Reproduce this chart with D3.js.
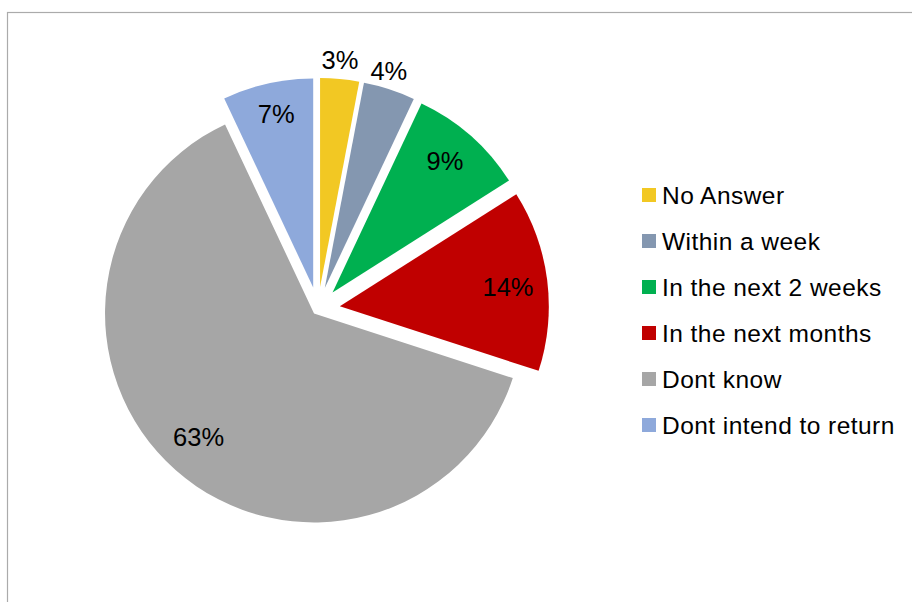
<!DOCTYPE html>
<html>
<head>
<meta charset="utf-8">
<script src="https://cdn.jsdelivr.net/npm/d3@7"></script>
<style>
  html, body { margin: 0; padding: 0; background: #fff; }
  svg { display: block; font-family: "Liberation Sans", Arial, sans-serif; }
</style>
</head>
<body>
<svg id="chart" width="912" height="602"></svg>
<script>
// Survey answers: when do respondents intend to return
const categories = ["No Answer", "Within a week", "In the next 2 weeks", "In the next months", "Dont know", "Dont intend to return"];
const shares = [3, 4, 9, 14, 63, 7];
const colors = ["#F2C823", "#8497B0", "#00B050", "#C00000", "#A6A6A6", "#8EA9DB"];
// per-slice explosion distance (px) and label placement
const explode = [22, 22, 22, 22, 6, 22];
const labelRadius = [1.09, 1.085, 0.83, 0.81, 0.81, 0.85]; // fraction of the pie radius
const labelTurn = [-0.4, -1.6, -1, 0.6, 1.6, 0.6];          // degrees

const svg = d3.select("#chart");

// chart frame (extends past the right and bottom edges)
svg.append("rect")
  .attr("x", 7.5).attr("y", 12.5)
  .attr("width", 1000).attr("height", 1000)
  .attr("fill", "none").attr("stroke", "#ababab").attr("stroke-width", 1.2);

const cx = 318, cy = 309, R = 209;
const rad = Math.PI / 180;

const pie = d3.pie().value(d => d).sort(null);
const arcs = pie(shares);
const arc = d3.arc().innerRadius(0).outerRadius(R);

const g = svg.append("g").attr("transform", `translate(${cx},${cy})`);

const slice = g.selectAll("g.slice").data(arcs).enter().append("g")
  .attr("class", "slice")
  .attr("transform", (d, i) => {
    const a = (d.startAngle + d.endAngle) / 2;
    return `translate(${explode[i] * Math.sin(a)},${-explode[i] * Math.cos(a)})`;
  });

slice.append("path")
  .attr("d", arc)
  .attr("fill", (d, i) => colors[i]);

slice.append("text")
  .attr("transform", (d, i) => {
    const a = (d.startAngle + d.endAngle) / 2 + labelTurn[i] * rad;
    const r = R * labelRadius[i];
    return `translate(${r * Math.sin(a)},${-r * Math.cos(a)})`;
  })
  .attr("text-anchor", "middle")
  .attr("dy", "0.36em")
  .attr("font-size", 25.5)
  .attr("fill", "#000")
  .text(d => d.data + "%");

// legend
const legend = svg.append("g").attr("transform", "translate(642,195)");
const row = legend.selectAll("g").data(categories).enter().append("g")
  .attr("transform", (d, i) => `translate(0,${i * 46})`);
row.append("rect")
  .attr("x", 0).attr("y", -7).attr("width", 14).attr("height", 14)
  .attr("fill", (d, i) => colors[i]);
row.append("text")
  .attr("x", 20).attr("y", 0).attr("dy", "0.36em")
  .attr("font-size", 24.5)
  .attr("letter-spacing", 0.45)
  .attr("fill", "#000")
  .text(d => d);
</script>
</body>
</html>
